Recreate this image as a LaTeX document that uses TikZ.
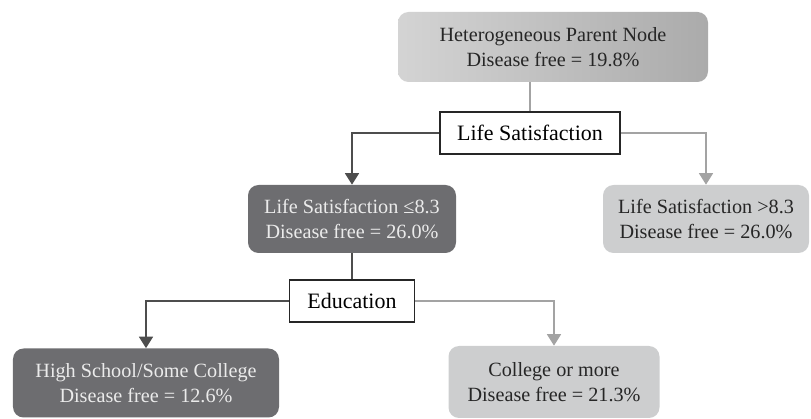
\documentclass[tikz,border=0pt]{standalone}
\usepackage{fontspec}
\setmainfont{Liberation Serif}
\usepackage{xcolor}
\usetikzlibrary{arrows.meta}
\definecolor{darkleaf}{HTML}{6D6D70}
\definecolor{lightleaf}{HTML}{CDCECF}
\definecolor{darkline}{HTML}{4D4D4D}
\definecolor{lightline}{HTML}{A3A3A3}
\tikzset{
  % rounded boxes holding a group of people
  leaf/.style={rounded corners=6pt, align=center, inner sep=2pt,
    font=\fontsize{11.5}{14}\selectfont},
  dark leaf/.style={leaf, fill=darkleaf, text=white!92!black},
  light leaf/.style={leaf, fill=lightleaf, text=black!85},
  % plain boxes naming the split variable
  split box/.style={draw=black!85, line width=1.1pt, fill=white,
    minimum height=0.84cm, font=\fontsize{12.5}{15}\selectfont},
  % connectors
  left branch/.style={draw=darkline, line width=0.6pt,
    -{Triangle[width=8pt,length=6.5pt]}},
  right branch/.style={draw=lightline, line width=0.6pt,
    -{Triangle[width=8pt,length=6.5pt]}},
}
\begin{document}
\begin{tikzpicture}
\useasboundingbox (0,0) rectangle (16.22,8.38);
\node[leaf, left color=black!17, right color=black!33, text=black!85,
  minimum width=6.2cm, minimum height=1.4cm] (parent) at (11.06,7.44)
  {Heterogeneous Parent Node\\Disease free = 19.8\%};
\node[split box, minimum width=3.6cm] (lifesat) at (10.6,5.72) {Life Satisfaction};
\node[dark leaf, minimum width=4.16cm, minimum height=1.36cm] (lowls) at (7.04,4.0)
  {Life Satisfaction ≤8.3\\Disease free = 26.0\%};
\node[light leaf, minimum width=4.12cm, minimum height=1.36cm] (highls) at (14.12,4.0)
  {Life Satisfaction >8.3\\Disease free = 26.0\%};
\node[split box, minimum width=2.5cm] (edu) at (7.04,2.36) {Education};
\node[dark leaf, minimum width=5.32cm, minimum height=1.38cm] (school) at (2.92,0.72)
  {High School/Some College\\Disease free = 12.6\%};
\node[light leaf, minimum width=4.22cm, minimum height=1.44cm] (college) at (11.08,0.74)
  {College or more\\Disease free = 21.3\%};
% first split
\draw[lightline, line width=0.6pt] (lifesat.north |- parent.south) -- (lifesat.north);
\draw[left branch] (lifesat.west) -| (lowls.north);
\draw[right branch] (lifesat.east) -| (highls.north);
% second split
\draw[darkline, line width=0.6pt] (lowls.south) -- (edu.north);
\draw[left branch] (edu.west) -| (school.north);
\draw[right branch] (edu.east) -| (college.north);
\end{tikzpicture}
\end{document}
